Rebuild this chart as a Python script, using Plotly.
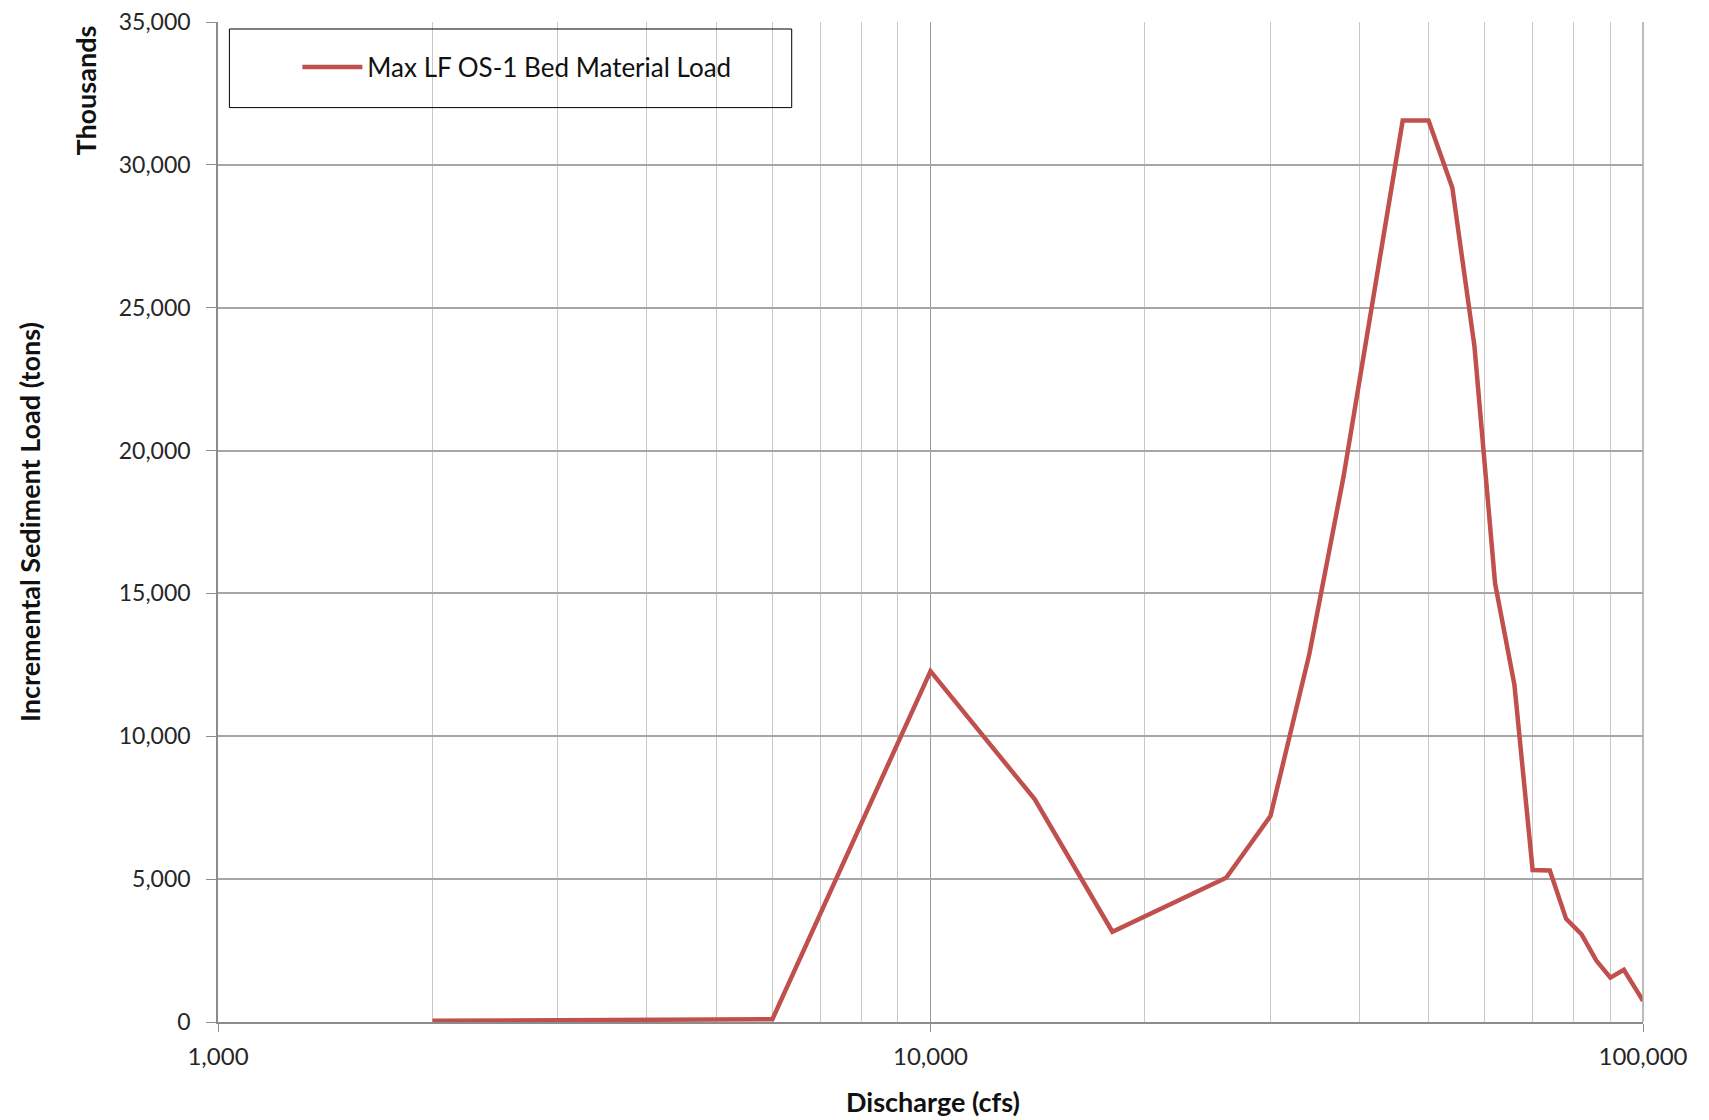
import plotly.graph_objects as go

# Discharge (cfs)
discharge = [2000, 2500, 3000, 3500, 4000, 4500, 5000, 5500, 6000,
             10000, 14000, 18000, 26000, 30000, 34000, 38000,
             46000, 50000, 54000, 58000, 62000, 66000, 70000, 74000,
             78000, 82000, 86000, 90000, 94000, 98000, 100000]
# Incremental sediment load (thousands of tons)
load_thousands = [40, 50, 55, 60, 65, 75, 80, 90, 100,
                  12280, 7800, 3160, 5050, 7210, 12850, 19100,
                  31550, 31550, 29200, 23650, 15350, 11800, 5320, 5300,
                  3610, 3070, 2150, 1550, 1825, 1100, 740]

series_name = "Max LF OS-1 Bed Material Load"
x_tick_vals = [1000, 10000, 100000]
x_tick_text = ["1,000", "10,000", "100,000"]
y_tick_vals = [0, 5000, 10000, 15000, 20000, 25000, 30000, 35000]
y_tick_text = ["0", "5,000", "10,000", "15,000", "20,000", "25,000", "30,000", "35,000"]

FONT = "Lato, 'Open Sans', sans-serif"
TXT = "#262626"

fig = go.Figure()
fig.add_trace(go.Scatter(
    x=discharge, y=load_thousands, mode="lines", name=series_name,
    line=dict(color="#C0504D", width=4.5),
))

fig.update_layout(
    width=1709, height=1120,
    margin=dict(l=209.5, r=74.3, t=14.4, b=106.4, pad=0),
    paper_bgcolor="white", plot_bgcolor="white",
    font=dict(family=FONT, size=24, color=TXT),
    showlegend=True,
    legend=dict(x=0.0557, y=0.9548, xanchor="left", yanchor="middle",
                bgcolor="rgba(0,0,0,0)", borderwidth=0,
                font=dict(family=FONT, size=26, color="#111111"),
                itemwidth=60),
    xaxis=dict(
        type="log", range=[3, 5], automargin=False,
        tickvals=x_tick_vals, ticktext=x_tick_text,
        tickfont=dict(family=FONT, size=24, color=TXT),
        showgrid=True, gridcolor="#9a9a9a", gridwidth=1,
        minor=dict(dtick="D1", showgrid=True, gridcolor="#c8c8c8", gridwidth=1, ticks=""),
        showline=True, linecolor="#8c8c8c", linewidth=1.5,
        ticks="outside", ticklen=8, tickcolor="#8c8c8c",
        ticklabelstandoff=4, ticklabeloverflow="allow",
        zeroline=False, mirror=False,
    ),
    yaxis=dict(
        range=[0, 35000], automargin=False,
        tickvals=y_tick_vals, ticktext=y_tick_text,
        tickfont=dict(family=FONT, size=23, color=TXT),
        showgrid=True, gridcolor="#a6a6a6", gridwidth=1.5,
        showline=True, linecolor="#8c8c8c", linewidth=1.5,
        ticks="outside", ticklen=10, tickcolor="#8c8c8c",
        ticklabelstandoff=11, ticklabeloverflow="allow",
        zeroline=False,
    ),
    shapes=[
        dict(type="rect", xref="paper", yref="paper",
             x0=0.008, x1=0.4026, y0=0.9144, y1=0.993,
             line=dict(color="#000000", width=1), fillcolor="rgba(0,0,0,0)", layer="above"),
        dict(type="line", xref="paper", yref="paper", x0=1, x1=1, y0=0, y1=1,
             line=dict(color="#a6a6a6", width=1.5)),
    ],
    annotations=[
        dict(text="<b>Incremental Sediment Load (tons)</b>", xref="paper", yref="paper",
             x=-0.1326, y=0.5, xanchor="center", yanchor="middle", textangle=-90,
             showarrow=False, font=dict(family=FONT, size=27, color="#111111")),
        dict(text="<b>Thousands</b>", xref="paper", yref="paper",
             x=-0.093, y=0.9319, xanchor="center", yanchor="middle", textangle=-90,
             showarrow=False, font=dict(family=FONT, size=27, color="#111111")),
        dict(text="<b>Discharge (cfs)</b>", xref="paper", yref="paper",
             x=0.5017, y=-0.0795, xanchor="center", yanchor="middle",
             showarrow=False, font=dict(family=FONT, size=27, color="#111111")),
    ],
)

fig.write_html("out.html")
